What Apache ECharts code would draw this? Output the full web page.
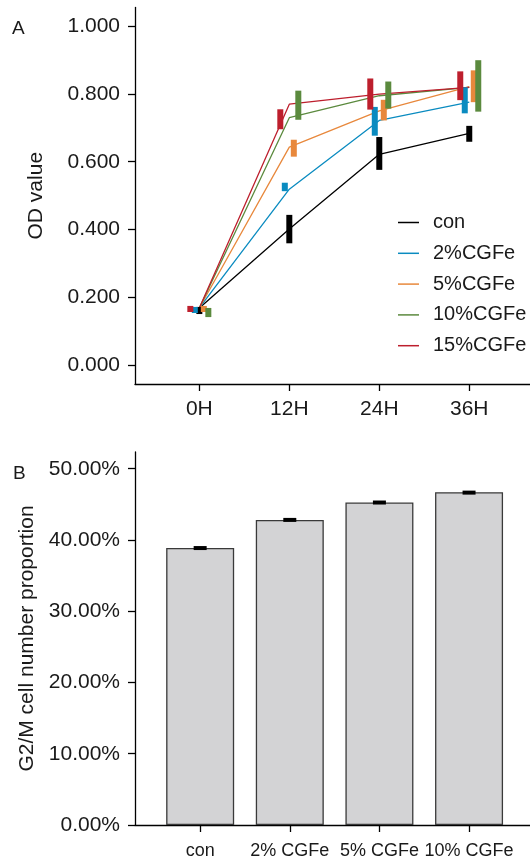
<!DOCTYPE html>
<html>
<head>
<meta charset="utf-8">
<script src="https://cdn.jsdelivr.net/npm/echarts@6/dist/echarts.min.js"></script>
<style>
  html, body { margin: 0; padding: 0; background: #fff; }
  #main { width: 530px; height: 860px; }
</style>
</head>
<body>
<div id="main"></div>
<script>
// panel A: OD value over time
var hours = [0, 12, 24, 36];
var odTicks = [0, 0.2, 0.4, 0.6, 0.8, 1.0];
var groupsA = ['con', '2%CGFe', '5%CGFe', '10%CGFe', '15%CGFe'];
var colorsA = ['#000000', '#0a8bc0', '#e8883c', '#5b8a3e', '#bd1f2d'];

var conMean = [0.168, 0.401, 0.622, 0.684];
var conLow  = [0.150, 0.359, 0.576, 0.659];
var conHigh = [0.171, 0.443, 0.673, 0.706];

var cg2Mean = [0.168, 0.519, 0.722, 0.776];
var cg2Low  = [0.153, 0.513, 0.677, 0.743];
var cg2High = [0.171, 0.538, 0.762, 0.820];

var cg5Mean = [0.168, 0.643, 0.750, 0.822];
var cg5Low  = [0.156, 0.615, 0.722, 0.776];
var cg5High = [0.174, 0.665, 0.783, 0.870];

var cg10Mean = [0.168, 0.730, 0.795, 0.820];
var cg10Low  = [0.141, 0.724, 0.757, 0.748];
var cg10High = [0.168, 0.810, 0.837, 0.900];

var cg15Mean = [0.168, 0.770, 0.800, 0.820];
var cg15Low  = [0.156, 0.696, 0.754, 0.782];
var cg15High = [0.174, 0.755, 0.846, 0.867];

// panel B: G2/M proportion
var groupsB = ['con', '2% CGFe', '5% CGFe', '10% CGFe'];
var g2mValues = [38.87, 42.82, 45.26, 46.71];
var g2mErr = [0.28, 0.28, 0.28, 0.22];
var pctTicks = [0, 10, 20, 30, 40, 50];

var chartDom = document.getElementById('main');
var myChart = echarts.init(chartDom);
var option;

var FONT = '"Liberation Sans", Arial, sans-serif';
var TXT = '#1a1a1a';

var meansA = [conMean, cg2Mean, cg5Mean, cg10Mean, cg15Mean];
var lowsA = [conLow, cg2Low, cg5Low, cg10Low, cg15Low];
var highsA = [conHigh, cg2High, cg5High, cg10High, cg15High];
var dodge = [0, -4.5, 4.5, 9, -9]; // px offsets of error bars

var series = [];
groupsA.forEach(function (name, k) {
  series.push({
    name: name,
    type: 'line',
    xAxisIndex: 0,
    yAxisIndex: 0,
    symbol: 'none',
    color: colorsA[k],
    lineStyle: { width: 1.3, color: colorsA[k] },
    data: hours.map(function (h, i) { return [h, meansA[k][i]]; }),
    z: 2
  });
});
groupsA.forEach(function (name, k) {
  series.push({
    name: name + ' err',
    type: 'custom',
    xAxisIndex: 0,
    yAxisIndex: 0,
    data: hours.map(function (h, i) { return [h, lowsA[k][i], highsA[k][i]]; }),
    renderItem: function (params, api) {
      var top = api.coord([api.value(0), api.value(2)]);
      var bot = api.coord([api.value(0), api.value(1)]);
      return {
        type: 'rect',
        shape: { x: top[0] + dodge[k] - 3, y: top[1], width: 6, height: bot[1] - top[1] },
        style: { fill: colorsA[k] }
      };
    },
    z: 3
  });
});

series.push({
  name: 'G2/M',
  type: 'bar',
  xAxisIndex: 1,
  yAxisIndex: 1,
  barWidth: 68,
  itemStyle: { color: '#d3d3d5', borderColor: '#3a3a3a', borderWidth: 1.3 },
  data: g2mValues.map(function (v, i) { return [i, v]; })
});
series.push({
  name: 'G2/M err',
  type: 'custom',
  xAxisIndex: 1,
  yAxisIndex: 1,
  data: g2mValues.map(function (v, i) { return [i, v - g2mErr[i], v + g2mErr[i]]; }),
  renderItem: function (params, api) {
    var top = api.coord([api.value(0), api.value(2)]);
    var bot = api.coord([api.value(0), api.value(1)]);
    return {
      type: 'rect',
      shape: { x: top[0] - 6.5, y: top[1], width: 13, height: Math.max(bot[1] - top[1], 4) },
      style: { fill: '#000' }
    };
  },
  z: 5
});

var axisLine = { show: true, onZero: false, lineStyle: { color: '#000', width: 1.3 } };
var axisTick = function (vals) {
  return { show: true, length: 7, customValues: vals, lineStyle: { color: '#000', width: 1.3 } };
};

option = {
  animation: false,
  backgroundColor: '#fff',
  textStyle: { fontFamily: FONT },
  graphic: [
    { type: 'text', left: 12, top: 19, style: { text: 'A', fontSize: 19, fontFamily: FONT, fill: TXT } },
    { type: 'text', left: 13, top: 464, style: { text: 'B', fontSize: 19, fontFamily: FONT, fill: TXT } }
  ],
  legend: {
    data: groupsA,
    orient: 'vertical',
    left: 393,
    top: 207.5,
    icon: 'rect',
    itemWidth: 21,
    itemHeight: 1.5,
    itemGap: 10.8,
    textStyle: { fontSize: 20, lineHeight: 20, color: TXT, fontFamily: FONT, padding: [0, 0, 0, 9] }
  },
  grid: [
    { left: 135, right: 0, top: 7.4, bottom: 476 },
    { left: 135, right: 0, top: 452, bottom: 31.5 }
  ],
  xAxis: [
    {
      type: 'value',
      gridIndex: 0,
      min: -8.58,
      max: 44.1,
      axisLine: axisLine,
      axisTick: axisTick(hours),
      splitLine: { show: false },
      axisLabel: {
        customValues: hours,
        formatter: function (v) { return v + 'H'; },
        fontSize: 21, color: TXT, fontFamily: FONT, margin: 15
      }
    },
    {
      type: 'value',
      gridIndex: 1,
      min: -0.727,
      max: 3.68,
      axisLine: axisLine,
      axisTick: axisTick([0, 1, 2, 3]),
      splitLine: { show: false },
      axisLabel: {
        customValues: [0, 1, 2, 3],
        formatter: function (v) { return groupsB[v]; },
        fontSize: 18, color: TXT, fontFamily: FONT, margin: 17
      }
    }
  ],
  yAxis: [
    {
      type: 'value',
      gridIndex: 0,
      min: -0.0567,
      max: 1.056,
      name: 'OD value',
      nameLocation: 'middle',
      nameGap: 88,
      nameTextStyle: { fontSize: 21, color: TXT, fontFamily: FONT },
      axisLine: axisLine,
      axisTick: axisTick(odTicks),
      splitLine: { show: false },
      axisLabel: {
        customValues: odTicks,
        formatter: function (v) { return v.toFixed(3); },
        fontSize: 21, color: TXT, fontFamily: FONT, margin: 15
      }
    },
    {
      type: 'value',
      gridIndex: 1,
      min: 0,
      max: 52.35,
      name: 'G2/M cell number proportion',
      nameLocation: 'middle',
      nameGap: 96,
      nameTextStyle: { fontSize: 21, color: TXT, fontFamily: FONT },
      axisLine: axisLine,
      axisTick: axisTick(pctTicks),
      splitLine: { show: false },
      axisLabel: {
        customValues: pctTicks,
        formatter: function (v) { return v.toFixed(2) + '%'; },
        fontSize: 21, color: TXT, fontFamily: FONT, margin: 15
      }
    }
  ],
  series: series
};

option && myChart.setOption(option);
</script>
</body>
</html>
